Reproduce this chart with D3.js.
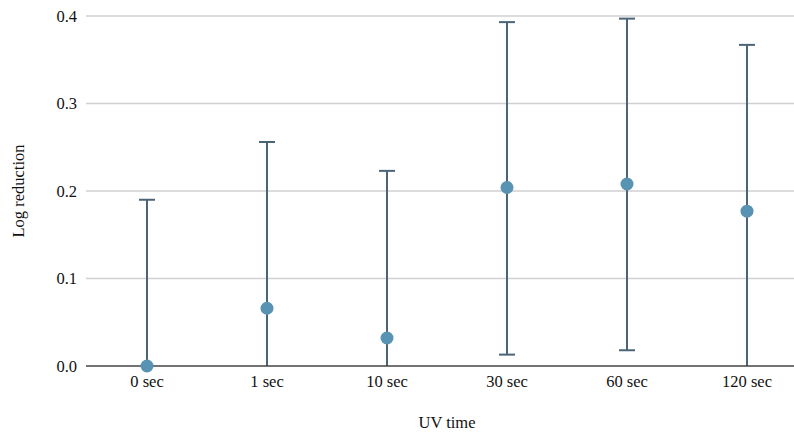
<!DOCTYPE html>
<html>
<head>
<meta charset="utf-8">
<script src="https://cdn.jsdelivr.net/npm/d3@7"></script>
<style>
html,body{margin:0;padding:0;background:#fff;}
svg{display:block;}
text{font-family:"Liberation Serif","Times New Roman",serif;fill:#111;}
</style>
</head>
<body>
<svg id="chart" width="794" height="433"></svg>
<script>
const categories = ["0 sec","1 sec","10 sec","30 sec","60 sec","120 sec"];
const meanValues = [0.0, 0.066, 0.032, 0.204, 0.208, 0.177];
const lowerValues = [-0.19, -0.124, -0.158, 0.013, 0.018, -0.013];
const upperValues = [0.19, 0.256, 0.223, 0.393, 0.397, 0.367];
const yTicks = [0.0, 0.1, 0.2, 0.3, 0.4];
const xTitle = "UV time";
const yTitle = "Log reduction";

(function(){
const svg = d3.select("#chart");
const mLeft = 87, mRight = 807, mTop = 16, mBottom = 366;
const fs = "16.5px";

const x = d3.scaleBand().domain(categories).range([mLeft, mRight]).padding(0);
const y = d3.scaleLinear().domain([0, 0.4]).range([mBottom, mTop]);

svg.append("defs").append("clipPath").attr("id","plotclip")
  .append("rect").attr("x", mLeft - 10).attr("y", mTop - 10)
  .attr("width", mRight - mLeft + 20).attr("height", mBottom - mTop + 10);

// gridlines
svg.append("g").selectAll("line").data(yTicks.filter(d => d > 0)).join("line")
  .attr("x1", mLeft - 1).attr("x2", mRight)
  .attr("y1", d => y(d)).attr("y2", d => y(d))
  .attr("stroke", "#d0d0d0").attr("stroke-width", 1.5);

// y axis (labels only)
const yAxis = d3.axisLeft(y).tickValues(yTicks).tickFormat(d3.format(".1f")).tickSize(0).tickPadding(9);
const gy = svg.append("g").attr("transform", `translate(${mLeft - 1},0)`).call(yAxis);
gy.select(".domain").remove();
gy.selectAll("text").style("font-size", fs).attr("font-family", null).attr("fill", "#111");

// x axis
const xAxis = d3.axisBottom(x).tickSize(0).tickPadding(9);
const gx = svg.append("g").attr("transform", `translate(0,${mBottom})`).call(xAxis);
gx.select(".domain").remove();
gx.selectAll("text").style("font-size", fs).attr("font-family", null).attr("fill", "#111");

// error bars
const plot = svg.append("g").attr("clip-path", "url(#plotclip)");
const eb = plot.selectAll("g.eb").data(categories).join("g").attr("class","eb");
const errColor = "#4b6577";
eb.append("line")
  .attr("x1", d => x(d) + x.bandwidth()/2).attr("x2", d => x(d) + x.bandwidth()/2)
  .attr("y1", (d,i) => y(lowerValues[i])).attr("y2", (d,i) => y(upperValues[i]))
  .attr("stroke", errColor).attr("stroke-width", 2);
eb.append("line")
  .attr("x1", d => x(d) + x.bandwidth()/2 - 8).attr("x2", d => x(d) + x.bandwidth()/2 + 8)
  .attr("y1", (d,i) => y(upperValues[i])).attr("y2", (d,i) => y(upperValues[i]))
  .attr("stroke", errColor).attr("stroke-width", 2);
eb.append("line")
  .attr("x1", d => x(d) + x.bandwidth()/2 - 8).attr("x2", d => x(d) + x.bandwidth()/2 + 8)
  .attr("y1", (d,i) => y(lowerValues[i])).attr("y2", (d,i) => y(lowerValues[i]))
  .attr("stroke", errColor).attr("stroke-width", 2);

// baseline axis line
svg.append("line").attr("x1", mLeft - 1).attr("x2", mRight)
  .attr("y1", y(0)).attr("y2", y(0))
  .attr("stroke", "#444").attr("stroke-width", 1.5);

// points
svg.append("g").selectAll("circle").data(categories).join("circle")
  .attr("cx", d => x(d) + x.bandwidth()/2)
  .attr("cy", (d,i) => y(meanValues[i]))
  .attr("r", 6.5)
  .attr("fill", "#5893b3");

// titles
svg.append("text").attr("x", (mLeft + mRight)/2).attr("y", 428)
  .attr("text-anchor","middle").style("font-size", fs).text(xTitle);
svg.append("text").attr("transform", `translate(24,${(mTop+mBottom)/2}) rotate(-90)`)
  .attr("text-anchor","middle").style("font-size", fs).text(yTitle);
})();
</script>
</body>
</html>
